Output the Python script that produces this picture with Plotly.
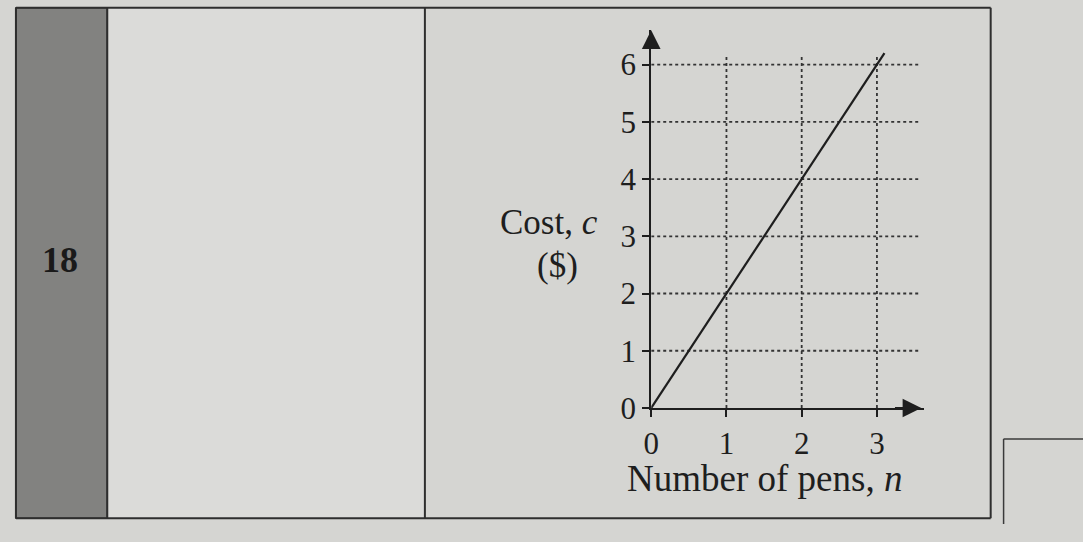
import plotly.graph_objects as go

# line c = 2n, drawn a little past n = 3
pens = [0, 3.1]
cost = [0, 6.2]

x_ticks = [0, 1, 2, 3]
y_ticks = [0, 1, 2, 3, 4, 5, 6]
grid_n = [1, 2, 3]
grid_c = [1, 2, 3, 4, 5, 6]

W, H = 1083, 542
paper_bg = "#d5d5d2"
ink = "#1e1e1e"
serif = "Liberation Serif"

def px(x):
    return x / W

def py(y):
    return 1 - y / H

x_max, y_max = 3.62, 6.6
grid_right, grid_top = 3.57, 6.15

fig = go.Figure()
fig.add_trace(go.Scatter(x=pens, y=cost, mode="lines",
                         line=dict(color=ink, width=2.2), hoverinfo="skip"))

shapes = []
# page / table frame
shapes.append(dict(type="rect", xref="paper", yref="paper", x0=px(100), x1=px(420), y0=py(536), y1=py(8),
                   fillcolor="#dbdbd9", line=dict(width=0), layer="below"))
shapes.append(dict(type="rect", xref="paper", yref="paper", x0=px(8), x1=px(100), y0=py(536), y1=py(8),
                   fillcolor="#828280", line=dict(color="#3a3a3a", width=1.5), layer="below"))
for x in [8, 100, 420, 990]:
    shapes.append(dict(type="line", xref="paper", yref="paper", x0=px(x), x1=px(x), y0=py(536), y1=py(8),
                       line=dict(color="#2e2e2e", width=2)))
for y in [8, 536]:
    shapes.append(dict(type="line", xref="paper", yref="paper", x0=px(8), x1=px(990), y0=py(y), y1=py(y),
                       line=dict(color="#2e2e2e", width=2)))
# small answer box at bottom right
shapes.append(dict(type="line", xref="paper", yref="paper", x0=px(1003), x1=px(1083), y0=py(454), y1=py(454),
                   line=dict(color="#3a3a3a", width=1.5)))
shapes.append(dict(type="line", xref="paper", yref="paper", x0=px(1003), x1=px(1003), y0=py(454), y1=py(542),
                   line=dict(color="#3a3a3a", width=1.5)))

# dotted grid
for n in grid_n:
    shapes.append(dict(type="line", xref="x", yref="y", x0=n, x1=n, y0=0, y1=grid_top,
                       line=dict(color="#333333", width=1.8, dash="dot"), layer="below"))
for c in grid_c:
    shapes.append(dict(type="line", xref="x", yref="y", x0=0, x1=grid_right, y0=c, y1=c,
                       line=dict(color="#333333", width=1.8, dash="dot"), layer="below"))

annotations = [
    # arrow heads on the axes
    dict(x=0, y=y_max, ax=0, ay=y_max - 0.3, xref="x", yref="y", axref="x", ayref="y",
         showarrow=True, arrowhead=2, arrowsize=1.7, arrowwidth=2.2, arrowcolor=ink, text=""),
    dict(x=x_max - 0.03, y=0, ax=x_max - 0.4, ay=0, xref="x", yref="y", axref="x", ayref="y",
         showarrow=True, arrowhead=2, arrowsize=1.7, arrowwidth=2.2, arrowcolor=ink, text=""),
    dict(x=px(596), y=py(230), xref="paper", yref="paper", xanchor="right", yanchor="middle",
         text="Cost, <i>c</i>", showarrow=False, font=dict(family=serif, size=35, color=ink)),
    dict(x=px(554), y=py(275), xref="paper", yref="paper", xanchor="center", yanchor="middle",
         text="($)", showarrow=False, font=dict(family=serif, size=35, color=ink)),
    dict(x=px(762), y=py(495), xref="paper", yref="paper", xanchor="center", yanchor="middle",
         text="Number of pens, <i>n</i>", showarrow=False, font=dict(family=serif, size=37, color=ink)),
    dict(x=px(52), y=py(269), xref="paper", yref="paper", xanchor="center", yanchor="middle",
         text="<b>18</b>", showarrow=False, font=dict(family=serif, size=36, color="#1a1a1a")),
]

fig.update_layout(
    width=W, height=H,
    margin=dict(l=0, r=0, t=0, b=0),
    paper_bgcolor=paper_bg, plot_bgcolor="rgba(0,0,0,0)",
    showlegend=False,
    shapes=shapes,
    annotations=annotations,
    xaxis=dict(domain=[px(648), px(648 + x_max * 75.8)], range=[0, x_max],
               tickvals=x_ticks, ticks="outside", ticklen=7, tickwidth=1.5, tickcolor=ink,
               showline=True, linecolor=ink, linewidth=2.2, showgrid=False, zeroline=False,
               tickfont=dict(family=serif, size=31, color=ink), fixedrange=True),
    yaxis=dict(domain=[py(422), py(422 - y_max * 59.2)], range=[0, y_max],
               tickvals=y_ticks, ticks="outside", ticklen=7, tickwidth=1.5, tickcolor=ink,
               showline=True, linecolor=ink, linewidth=2.2, showgrid=False, zeroline=False,
               tickfont=dict(family=serif, size=31, color=ink), fixedrange=True),
)

page_css = ("document.documentElement.style.margin='0';document.documentElement.style.overflow='hidden';"
            "document.body.style.margin='0';document.body.style.overflow='hidden';"
            "document.body.style.height='542px';document.body.style.background='#d5d5d2';")
fig.write_html("out.html", config={"displayModeBar": False}, post_script=page_css)
